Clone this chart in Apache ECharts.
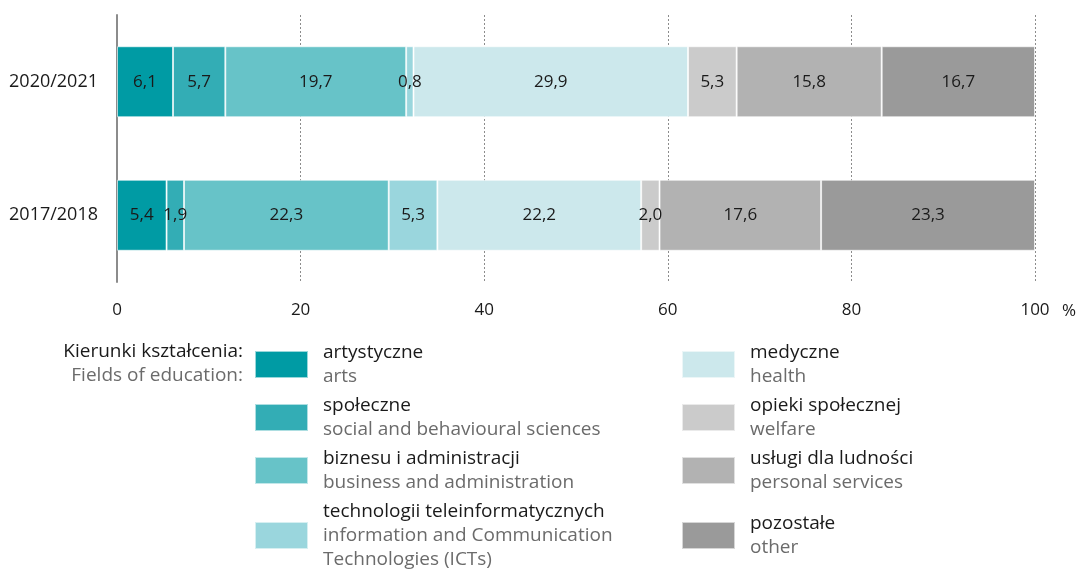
<!DOCTYPE html>
<html>
<head>
<meta charset="utf-8">
<script src="https://cdn.jsdelivr.net/npm/echarts@6/dist/echarts.min.js"></script>
<style>
  html, body { margin: 0; padding: 0; background: #fff; }
  #main { width: 1082px; height: 569px; }
</style>
</head>
<body>
<div id="main"></div>
<script>
// lata akademickie (odwrócona oś – 2020/2021 na górze)
const categories = ['2020/2021', '2017/2018'];

// kierunki kształcenia, PL + EN
const fieldsPl = ['artystyczne', 'społeczne', 'biznesu i administracji', 'technologii teleinformatycznych',
  'medyczne', 'opieki społecznej', 'usługi dla ludności', 'pozostałe'];
const fieldsEn = ['arts', 'social and behavioural sciences', 'business and administration',
  'information and Communication\nTechnologies (ICTs)', 'health', 'welfare', 'personal services', 'other'];
const colors = ['#009ba4', '#33adb5', '#67c3c8', '#9ad6dd', '#cce8ec', '#cbcbcb', '#b2b2b2', '#9a9a9a'];

// udział w % (2020/2021, 2017/2018)
const arts = [6.1, 5.4];
const social = [5.7, 1.9];
const business = [19.7, 22.3];
const ict = [0.8, 5.3];
const health = [29.9, 22.2];
const welfare = [5.3, 2.0];
const personal = [15.8, 17.6];
const other = [16.7, 23.3];

const xTicks = [0, 20, 40, 60, 80, 100];

const FONT = 'Open Sans';
const seriesData = [arts, social, business, ict, health, welfare, personal, other];

let chart = echarts.init(document.getElementById('main'));

function legendFormatter(name) {
  const i = fieldsPl.indexOf(name);
  const en = fieldsEn[i].split('\n').map(s => '{en|' + s + '}').join('\n');
  return '{pl|' + name + '}\n' + en;
}

const legendRich = {
  pl: { fontFamily: FONT, fontSize: 19, color: '#1a1a1a', lineHeight: 24, padding: [0, 0, 0, 10] },
  en: { fontFamily: FONT, fontSize: 19, color: '#6b6b6b', lineHeight: 24, padding: [0, 0, 0, 10] }
};

// legenda w kilku kawałkach, bo ostatnie wiersze mają inną wysokość
function makeLegend(left, top, names) {
  return {
    orient: 'vertical',
    left: left,
    top: top,
    padding: 0,
    itemGap: 5,
    itemWidth: 53,
    itemHeight: 27,
    icon: 'rect',
    selectedMode: false,
    data: names,
    formatter: legendFormatter,
    textStyle: { fontFamily: FONT, fontSize: 19, lineHeight: 24, rich: legendRich }
  };
}

let option = {
  color: colors,
  animation: false,
  grid: { left: 117, right: 47, top: 15, bottom: 287 },
  legend: [
    makeLegend(254, 340.5, fieldsPl.slice(0, 3)),
    makeLegend(254, 499.5, fieldsPl.slice(3, 4)),
    makeLegend(681, 340.5, fieldsPl.slice(4, 7)),
    makeLegend(681, 511.5, fieldsPl.slice(7))
  ],
  xAxis: {
    type: 'value',
    min: 0,
    max: 100,
    interval: 20,
    axisLine: { show: false },
    axisTick: { show: false },
    splitLine: { show: true, lineStyle: { color: '#8c8c8c', width: 1, type: [2, 2] } },
    axisLabel: {
      fontFamily: FONT, fontSize: 17, color: '#1a1a1a', margin: 20,
      formatter: v => xTicks.indexOf(v) >= 0 ? String(v) : ''
    }
  },
  yAxis: {
    type: 'category',
    inverse: true,
    data: categories,
    axisLine: { show: true, lineStyle: { color: '#8c8c8c', width: 2 } },
    axisTick: { show: false },
    axisLabel: { fontFamily: FONT, fontSize: 18, color: '#1a1a1a', margin: 19 }
  },
  graphic: [
    {
      type: 'text', x: 243, y: 352,
      style: { text: 'Kierunki kształcenia:', fontFamily: FONT, fontSize: 19, fill: '#1a1a1a', align: 'right', verticalAlign: 'middle' }
    },
    {
      type: 'text', x: 243, y: 376,
      style: { text: 'Fields of education:', fontFamily: FONT, fontSize: 19, fill: '#6b6b6b', align: 'right', verticalAlign: 'middle' }
    },
    {
      type: 'text', x: 1062, y: 311,
      style: { text: '%', fontFamily: FONT, fontSize: 17, fill: '#1a1a1a', align: 'left', verticalAlign: 'middle' }
    }
  ],
  series: fieldsPl.map((name, i) => ({
    name: name,
    type: 'bar',
    stack: 'total',
    barWidth: 71,
    data: seriesData[i],
    itemStyle: { borderColor: 'rgba(255,255,255,0.6)', borderWidth: 1 },
    label: {
      show: true,
      position: 'inside',
      fontFamily: FONT,
      fontSize: 17,
      color: '#1a1a1a',
      formatter: p => p.value.toFixed(1).replace('.', ',')
    }
  }))
};

option && chart.setOption(option);
</script>
</body>
</html>
